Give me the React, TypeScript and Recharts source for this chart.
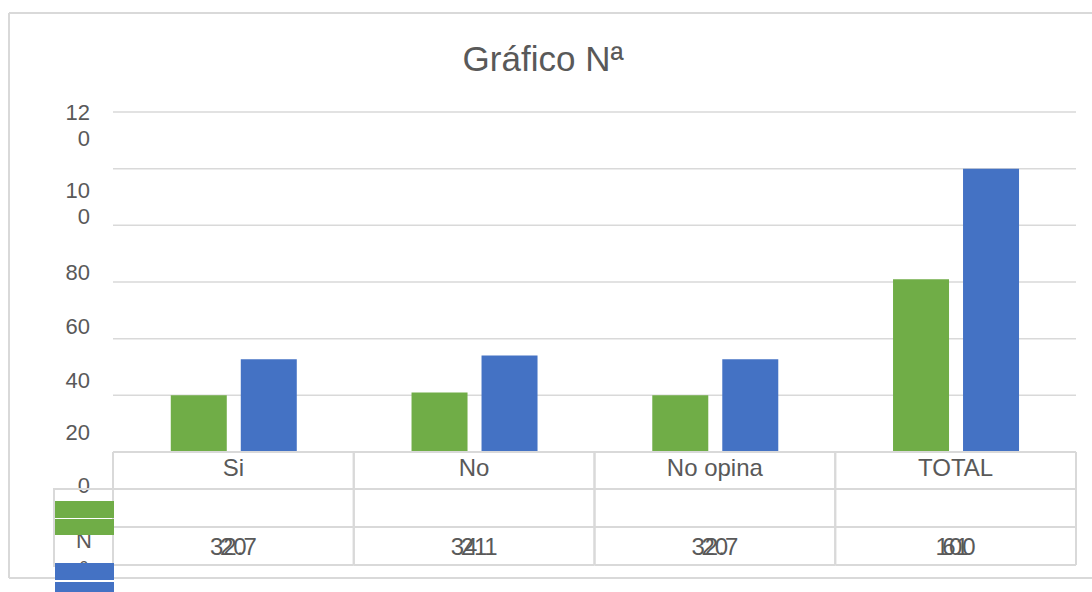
import { BarChart, Bar, XAxis, YAxis, CartesianGrid } from "recharts";

const categories = ["Si", "No", "No opina", "TOTAL"];
const greenValues = [20, 21, 20, 61];
const blueValues = [32.7, 34.1, 32.7, 100];
const yTicks = [0, 20, 40, 60, 80, 100, 120];
// the axis labels wrap in the original (narrow label box)
const yTickLines: Record<number, string[]> = {
  0: ["0"],
  20: ["20"],
  40: ["40"],
  60: ["60"],
  80: ["80"],
  100: ["10", "0"],
  120: ["12", "0"],
};
const seriesName = "Nª";
const title = "Gráfico Nª";

const GREEN = "#70ad47";
const BLUE = "#4472c4";
const TEXT = "#595959";
const LINE = "#d9d9d9";
const FONT = "'Liberation Sans', Arial, sans-serif";

const data = categories.map((c, i) => ({
  name: c,
  green: greenValues[i],
  blue: blueValues[i],
}));

// vertical drift of each label against its gridline, as in the original
const labelShift: Record<number, number> = {
  0: 33,
  20: 37,
  40: 41,
  60: 44,
  80: 47,
  100: 21,
  120: 0,
};

function YTick(props: any) {
  const { x, y, payload } = props;
  const lines = yTickLines[payload.value] ?? [String(payload.value)];
  const top = y + (labelShift[payload.value] ?? 0);
  return (
    <text
      x={x}
      y={top}
      textAnchor="end"
      dominantBaseline="central"
      fill={TEXT}
      fontSize={22}
      fontFamily={FONT}
    >
      {lines.map((l, i) => (
        <tspan key={i} x={x} y={top + i * 26}>
          {l}
        </tspan>
      ))}
    </text>
  );
}

function TableTick(props: any) {
  const { x, y, payload, index } = props;
  const half = payload.offset ?? 120;
  const rows = [0, 37, 75, 113];
  return (
    <g>
      {rows.map((r) => (
        <line
          key={r}
          x1={x - half}
          x2={x + half}
          y1={y + r}
          y2={y + r}
          stroke={LINE}
          strokeWidth={2}
        />
      ))}
      <line x1={x - half} x2={x - half} y1={y} y2={y + 113} stroke={LINE} strokeWidth={2} />
      <line x1={x + half} x2={x + half} y1={y} y2={y + 113} stroke={LINE} strokeWidth={2} />
      <text
        x={x}
        y={y + 15}
        textAnchor="middle"
        dominantBaseline="central"
        fill={TEXT}
        fontSize={24}
        fontFamily={FONT}
      >
        {payload.value}
      </text>
      {/* both series share the last row in the original, so they overprint */}
      {[blueValues[index], greenValues[index]].map((v, k) => (
        <text
          key={k}
          x={x}
          y={y + 94}
          textAnchor="middle"
          dominantBaseline="central"
          fill={TEXT}
          fontSize={24}
          fontFamily={FONT}
        >
          {v}
        </text>
      ))}
    </g>
  );
}

export default function App() {
  return (
    <div
      style={{
        position: "absolute",
        left: 0,
        top: 0,
        width: 1092,
        height: 592,
        background: "#fff",
        overflow: "hidden",
        fontFamily: FONT,
      }}
    >
      <BarChart
        width={1092}
        height={592}
        data={data}
        margin={{ top: 112, right: 16, bottom: 139, left: 13 }}
        barCategoryGap="24%"
        barGap={14}
      >
        <CartesianGrid vertical={false} stroke={LINE} strokeWidth={1.5} />
        <XAxis
          dataKey="name"
          height={1}
          interval={0}
          tickLine={false}
          tickSize={0}
          tickMargin={0}
          axisLine={{ stroke: LINE, strokeWidth: 2 }}
          tick={<TableTick />}
        />
        <YAxis
          width={100}
          domain={[0, 120]}
          ticks={yTicks}
          interval={0}
          axisLine={false}
          tickLine={false}
          tickSize={0}
          tickMargin={23}
          tick={<YTick />}
        />
        <Bar dataKey="green" fill={GREEN} isAnimationActive={false} />
        <Bar dataKey="blue" fill={BLUE} isAnimationActive={false} />
      </BarChart>

      <svg
        width={1092}
        height={592}
        style={{ position: "absolute", left: 0, top: 0, pointerEvents: "none" }}
      >
        {/* chart frame (right side cut off) */}
        <line x1={9} x2={1092} y1={13} y2={13} stroke={LINE} strokeWidth={2} />
        <line x1={9} x2={9} y1={13} y2={578} stroke={LINE} strokeWidth={2} />
        <line x1={9} x2={1092} y1={578} y2={578} stroke={LINE} strokeWidth={2} />

        <text
          x={543}
          y={58}
          textAnchor="middle"
          dominantBaseline="central"
          fill={TEXT}
          fontSize={35}
          fontFamily={FONT}
        >
          {title}
        </text>

        {/* legend keys of the data table */}
        <rect x={54} y={489} width={59} height={77} fill="none" stroke={LINE} strokeWidth={2} />
        <text x={84} y={540} textAnchor="middle" dominantBaseline="central" fill={TEXT} fontSize={22} fontFamily={FONT}>
          {seriesName[0]}
        </text>
        <text x={84} y={568} textAnchor="middle" dominantBaseline="central" fill={TEXT} fontSize={22} fontFamily={FONT}>
          {seriesName[1]}
        </text>
        <rect x={55} y={501} width={59} height={17} fill={GREEN} />
        <rect x={55} y={519} width={59} height={16} fill={GREEN} />
        <rect x={55} y={563} width={59} height={17} fill={BLUE} />
        <rect x={55} y={582} width={59} height={12} fill={BLUE} />
      </svg>
    </div>
  );
}
